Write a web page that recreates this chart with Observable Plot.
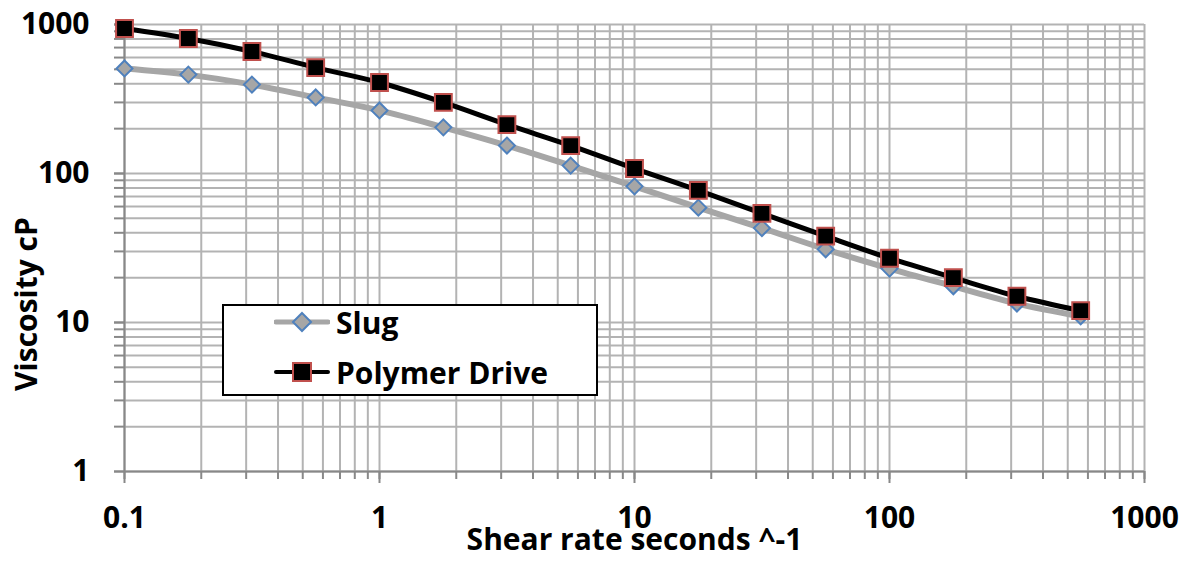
<!DOCTYPE html>
<html>
<head>
<meta charset="utf-8">
<script src="https://cdn.jsdelivr.net/npm/d3@7"></script>
<script src="https://cdn.jsdelivr.net/npm/@observablehq/plot@0.6"></script>
<style>
  html, body { margin: 0; padding: 0; background: #fff; }
  #wrap { position: relative; width: 1194px; height: 563px; overflow: hidden; }
  #legend {
    position: absolute; left: 222px; top: 304px; width: 372px; height: 88px;
    border: 2px solid #000; background: #fff;
    font-family: "Open Sans", sans-serif; font-weight: 700; font-size: 30px; color: #000;
  }
  .item { position: absolute; left: 50px; height: 40px; display: flex; align-items: center; }
  .item svg { display: block; margin-right: 6px; }
</style>
</head>
<body>
<div id="wrap"></div>
<script>
// Shear rate (s^-1)
const shearRate = [0.1, 0.178, 0.316, 0.562, 1, 1.78, 3.16, 5.62, 10, 17.8, 31.6, 56.2, 100, 178, 316, 562];
// Viscosity (cP)
const slug = [507, 461, 395, 324, 265, 204, 154, 113, 82, 59, 43, 31, 23, 17.5, 13.4, 11];
const polymerDrive = [940, 805, 659, 514, 408, 300, 213, 154, 108, 77, 54, 38, 27, 20, 15, 12];
const seriesNames = ["Slug", "Polymer Drive"];
const xTickLabels = [0.1, 1, 10, 100, 1000];
const yTickLabels = [1, 10, 100, 1000];
const xTitle = "Shear rate seconds ^-1";
const yTitle = "Viscosity cP";

const minorOf = (majors) => majors.slice(0, -1).flatMap(m => [1,2,3,4,5,6,7,8,9].map(k => +(m * k).toPrecision(6))).concat([majors[majors.length - 1]]);
const xGrid = minorOf(xTickLabels);
const yGrid = minorOf(yTickLabels);

const rows = [
  ...shearRate.map((x, i) => ({series: seriesNames[0], x, y: slug[i]})),
  ...shearRate.map((x, i) => ({series: seriesNames[1], x, y: polymerDrive[i]}))
];
const slugRows = rows.filter(d => d.series === seriesNames[0]);
const polyRows = rows.filter(d => d.series === seriesNames[1]);

const font = "'Open Sans', sans-serif";

const chart = Plot.plot({
  width: 1194,
  height: 563,
  marginLeft: 124,
  marginRight: 50,
  marginTop: 24,
  marginBottom: 92,
  style: {fontFamily: font, fontWeight: 700, fontSize: "30px", color: "#000", background: "#fff"},
  x: {type: "log", domain: [0.1, 1000]},
  y: {type: "log", domain: [1, 1000]},
  marks: [
    Plot.gridX(xGrid, {stroke: "#b3b3b3", strokeOpacity: 1, strokeWidth: 2}),
    Plot.gridY(yGrid, {stroke: "#b3b3b3", strokeOpacity: 1, strokeWidth: 2}),
    Plot.axisX(xGrid, {tickSize: 8, tickFormat: () => "", stroke: "#888", strokeWidth: 2, label: null}),
    Plot.axisX(xTickLabels, {tickSize: 12, tickPadding: 23, tickFormat: d => String(d), stroke: "#888", strokeWidth: 2, fill: "#000", label: null}),
    Plot.axisY(yGrid, {tickSize: 10, tickFormat: () => "", stroke: "#888", strokeWidth: 2, label: null}),
    Plot.axisY(yTickLabels, {tickSize: 10, tickPadding: 25, tickFormat: d => String(d), stroke: "#888", strokeWidth: 2, fill: "#000", label: null}),
    Plot.ruleY([1], {stroke: "#888", strokeWidth: 2}),
    Plot.ruleX([0.1], {stroke: "#888", strokeWidth: 2}),
    Plot.line(slugRows, {x: "x", y: "y", stroke: "#a6a6a6", strokeWidth: 6, curve: "catmull-rom"}),
    Plot.line(polyRows, {x: "x", y: "y", stroke: "#000", strokeWidth: 5, curve: "catmull-rom"}),
    Plot.dot(slugRows, {x: "x", y: "y", symbol: "diamond2", r: 7.2, fill: "#a6a6a6", stroke: "#4f81bd", strokeWidth: 2}),
    Plot.dot(polyRows, {x: "x", y: "y", symbol: "square", r: 9.5, fill: "#000", stroke: "#c0504d", strokeWidth: 2}),
    Plot.text([xTitle], {frameAnchor: "bottom", textAnchor: "middle", lineAnchor: "middle", dy: 69, text: d => d, fontSize: 30, fontWeight: 700, fill: "#000"}),
    Plot.text([yTitle], {frameAnchor: "left", textAnchor: "middle", lineAnchor: "middle", dx: -97, dy: 56, rotate: -90, text: d => d, fontSize: 30, fontWeight: 700, fill: "#000"})
  ]
});
document.getElementById("wrap").appendChild(chart);

// Legend
const legend = document.createElement("div");
legend.id = "legend";
const sym = (name) => name === seriesNames[0]
  ? `<svg width="56" height="24"><line x1="2" y1="12" x2="54" y2="12" stroke="#a6a6a6" stroke-width="5" stroke-linecap="round"/><path d="M28 3 L37 12 L28 21 L19 12 Z" fill="#a6a6a6" stroke="#4f81bd" stroke-width="2"/></svg>`
  : `<svg width="56" height="24"><line x1="2" y1="12" x2="54" y2="12" stroke="#000" stroke-width="4" stroke-linecap="round"/><rect x="19" y="3" width="18" height="18" fill="#000" stroke="#c0504d" stroke-width="2"/></svg>`;
legend.innerHTML = seriesNames.map((n, i) =>
  `<div class="item" style="top:${i === 0 ? -4 : 46}px">${sym(n)}<span>${n}</span></div>`).join("");
document.getElementById("wrap").appendChild(legend);
</script>
</body>
</html>
